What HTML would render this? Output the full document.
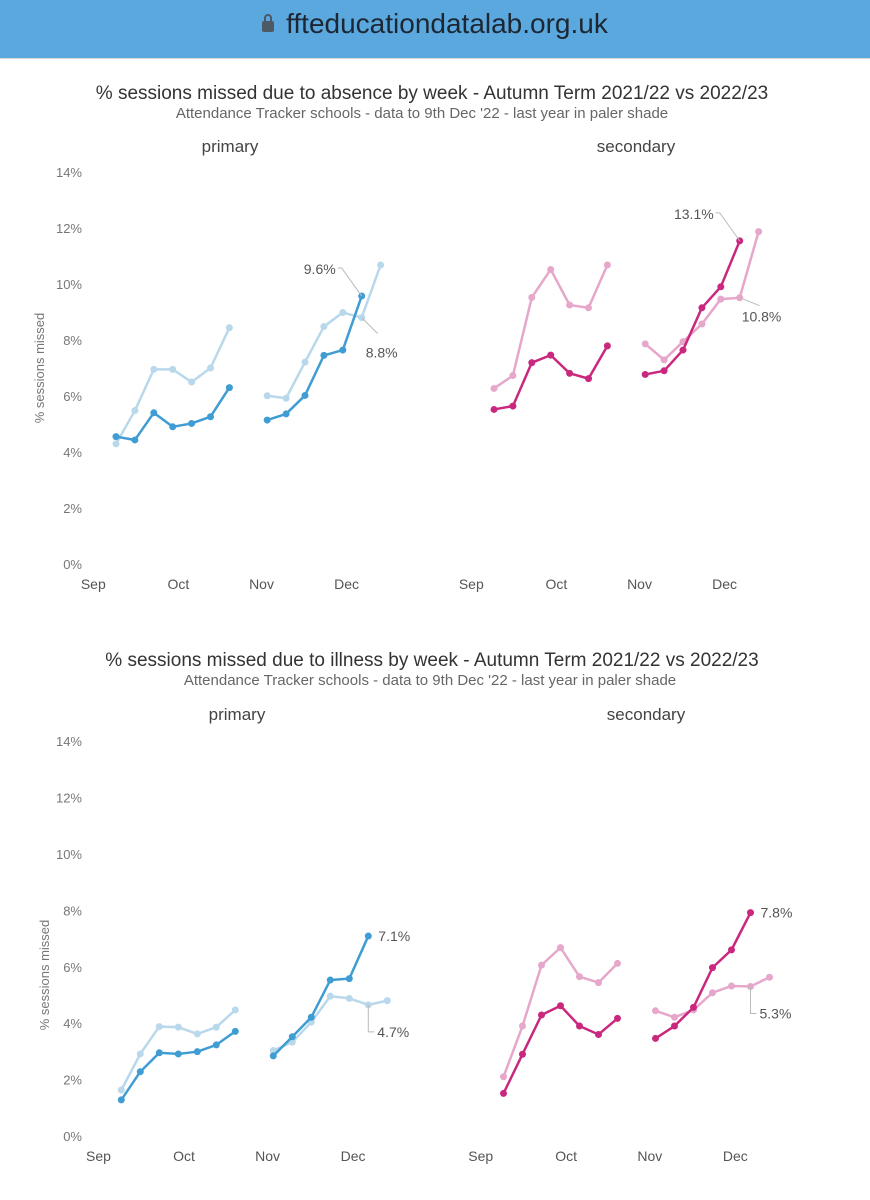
<!DOCTYPE html>
<html><head><meta charset="utf-8"><style>
body{margin:0;width:870px;height:1200px;background:#fff;overflow:hidden;font-family:"Liberation Sans",sans-serif}
#hdr{position:absolute;left:0;top:0;width:870px;height:58px;background:#5aa8de;border-bottom:1px solid #d8d8d8}
#url{position:absolute;left:0;width:870px;top:8px;text-align:center;font-size:28px;color:#1d2733}
svg{position:absolute;left:0;top:0}
</style></head><body>
<div id="hdr"><div id="url"><span style="display:inline-block;width:12px;height:11px;background:#4d5a66;border-radius:2px;position:relative;margin-right:12px;top:-1px"><span style="position:absolute;left:2px;top:-7px;width:4px;height:6px;border:2px solid #4d5a66;border-bottom:none;border-radius:5px 5px 0 0"></span></span>ffteducationdatalab.org.uk</div></div>
<svg id="chart" width="870" height="1200"></svg>
<script>
// Data (values in %)
const absPrimCur1=[4.55,4.43,5.4,4.9,5.02,5.26,6.3];
const absPrimCur2=[5.14,5.36,6.02,7.45,7.64,9.57];
const absPrimPrev1=[4.29,5.48,6.95,6.95,6.5,7.0,8.44];
const absPrimPrev2=[6.01,5.92,7.21,8.48,8.98,8.8,10.68];
const absSecCur1=[5.52,5.64,7.19,7.46,6.81,6.62,7.79];
const absSecCur2=[6.77,6.9,7.64,9.15,9.9,11.54];
const absSecPrev1=[6.27,6.73,9.52,10.52,9.25,9.15,10.68];
const absSecPrev2=[7.86,7.29,7.94,8.57,9.46,9.51,11.87];
const illPrimCur1=[1.28,2.28,2.95,2.91,2.99,3.23,3.71];
const illPrimCur2=[2.84,3.52,4.21,5.53,5.58,7.09];
const illPrimPrev1=[1.63,2.91,3.88,3.86,3.62,3.86,4.47];
const illPrimPrev2=[3.03,3.33,4.04,4.96,4.88,4.65,4.8];
const illSecCur1=[1.51,2.9,4.29,4.62,3.9,3.6,4.17];
const illSecCur2=[3.46,3.9,4.56,5.97,6.6,7.92];
const illSecPrev1=[2.1,3.9,6.06,6.68,5.65,5.44,6.12];
const illSecPrev2=[4.44,4.21,4.47,5.08,5.32,5.3,5.63];
const yTicks=[0,2,4,6,8,10,12,14];
const monthLabels=["Sep","Oct","Nov","Dec"];
const monthWeeks=[-1.2,3.3,7.7,12.2];
const labels={absPrimCur:"9.6%",absPrimPrev:"8.8%",absSecCur:"13.1%",absSecPrev:"10.8%",illPrimCur:"7.1%",illPrimPrev:"4.7%",illSecCur:"7.8%",illSecPrev:"5.3%"};

const NS="http://www.w3.org/2000/svg";
const svg=document.getElementById('chart');
function mk(tag,attrs,parent,txt){const e=document.createElementNS(NS,tag);for(const k in attrs)e.setAttribute(k,attrs[k]);if(txt!==undefined)e.textContent=txt;(parent||svg).appendChild(e);return e;}
function txt(x,y,s,size,fill,anchor,name){const t=mk('text',{x:x,y:y,'font-size':size,fill:fill,'text-anchor':anchor||'middle'},svg,s);


return t;}

function panel(o){
  const X=i=>o.x0+i*o.dx, Y=v=>o.y0-v*o.py;
  if(o.showY){
    yTicks.forEach(v=>{txt(82,Y(v)+5,v+'%',13,'#777','end','y-tick-label');});
  }
  monthLabels.forEach((m,k)=>{txt(X(monthWeeks[k]),o.y0+25,m,14,'#555','middle','x-tick-label');});
  function series(vals,start,color,w,r,name){
    const pts=vals.map((v,i)=>[X(start+i),Y(v)]);
    const p=mk('polyline',{points:pts.map(p=>p.join(',')).join(' '),fill:'none',stroke:color,'stroke-width':w,'stroke-linejoin':'round'});
    
    
    pts.forEach(pt=>{const c=mk('circle',{cx:pt[0],cy:pt[1],r:r,fill:color});
      
      });
    return pts;
  }
  series(o.prev1,0,o.light,2.5,3.5,'last-year');
  const pl=series(o.prev2,8,o.light,2.5,3.5,'last-year');
  series(o.cur1,0,o.dark,2.5,3.5,'this-year');
  const cl=series(o.cur2,8,o.dark,2.5,3.5,'this-year');
  const ce=cl[cl.length-1], pe=pl[pl.length-2];
  if(o.curLab==='left'){
    mk('polyline',{points:`${ce[0]},${ce[1]} ${ce[0]-20},${ce[1]-28} ${ce[0]-24},${ce[1]-28}`,fill:'none',stroke:'#bbb','stroke-width':1});
    txt(ce[0]-26,ce[1]-22,o.curText,14,'#555','end','current-value-label');
  } else {
    txt(ce[0]+10,ce[1]+5,o.curText,14,'#555','start','current-value-label');
  }
  if(o.prevLab==='diag'){
    mk('polyline',{points:`${pe[0]},${pe[1]} ${pe[0]+16},${pe[1]+16}`,fill:'none',stroke:'#bbb','stroke-width':1});
    txt(pe[0]+4,pe[1]+40,o.prevText,14,'#555','start','previous-value-label');
  } else if(o.prevLab==='flat'){
    mk('polyline',{points:`${pe[0]},${pe[1]} ${pe[0]+20},${pe[1]+8}`,fill:'none',stroke:'#bbb','stroke-width':1});
    txt(pe[0]+2,pe[1]+24,o.prevText,14,'#555','start','previous-value-label');
  } else {
    mk('polyline',{points:`${pe[0]},${pe[1]} ${pe[0]},${pe[1]+27} ${pe[0]+6},${pe[1]+27}`,fill:'none',stroke:'#bbb','stroke-width':1});
    txt(pe[0]+9,pe[1]+32,o.prevText,14,'#555','start','previous-value-label');
  }
}
const PD='#3f9dd3',PL='#b9d8eb',SD='#c9287e',SL='#e6a7cb';
// Top chart
txt(432,99,'% sessions missed due to absence by week - Autumn Term 2021/22 vs 2022/23',19,'#333','middle','absence-chart-title');
txt(422,118,"Attendance Tracker schools - data to 9th Dec '22 - last year in paler shade",15,'#666','middle','absence-chart-subtitle');
txt(230,152,'primary',17,'#444','middle','absence-primary-title');
txt(636,152,'secondary',17,'#444','middle','absence-secondary-title');
let t=txt(0,0,'% sessions missed',13,'#777','middle','absence-y-axis-title');t.setAttribute('transform','translate(44,368) rotate(-90)');
panel({x0:116,dx:18.9,y0:564,py:28,showY:true,cur1:absPrimCur1,cur2:absPrimCur2,prev1:absPrimPrev1,prev2:absPrimPrev2,dark:PD,light:PL,curLab:'left',curText:labels.absPrimCur,prevLab:'diag',prevText:labels.absPrimPrev});
panel({x0:494,dx:18.9,y0:564,py:28,showY:false,cur1:absSecCur1,cur2:absSecCur2,prev1:absSecPrev1,prev2:absSecPrev2,dark:SD,light:SL,curLab:'left',curText:labels.absSecCur,prevLab:'flat',prevText:labels.absSecPrev});
// Bottom chart
txt(432,666,'% sessions missed due to illness by week - Autumn Term 2021/22 vs 2022/23',19,'#333','middle','illness-chart-title');
txt(430,685,"Attendance Tracker schools - data to 9th Dec '22 - last year in paler shade",15,'#666','middle','illness-chart-subtitle');
txt(237,720,'primary',17,'#444','middle','illness-primary-title');
txt(646,720,'secondary',17,'#444','middle','illness-secondary-title');
t=txt(0,0,'% sessions missed',13,'#777','middle','illness-y-axis-title');t.setAttribute('transform','translate(49,975) rotate(-90)');
panel({x0:121.3,dx:19,y0:1136,py:28.2,showY:true,cur1:illPrimCur1,cur2:illPrimCur2,prev1:illPrimPrev1,prev2:illPrimPrev2,dark:PD,light:PL,curLab:'right',curText:labels.illPrimCur,prevLab:'vert',prevText:labels.illPrimPrev});
panel({x0:503.5,dx:19,y0:1136,py:28.2,showY:false,cur1:illSecCur1,cur2:illSecCur2,prev1:illSecPrev1,prev2:illSecPrev2,dark:SD,light:SL,curLab:'right',curText:labels.illSecCur,prevLab:'vert',prevText:labels.illSecPrev});
</script>
</body></html>
